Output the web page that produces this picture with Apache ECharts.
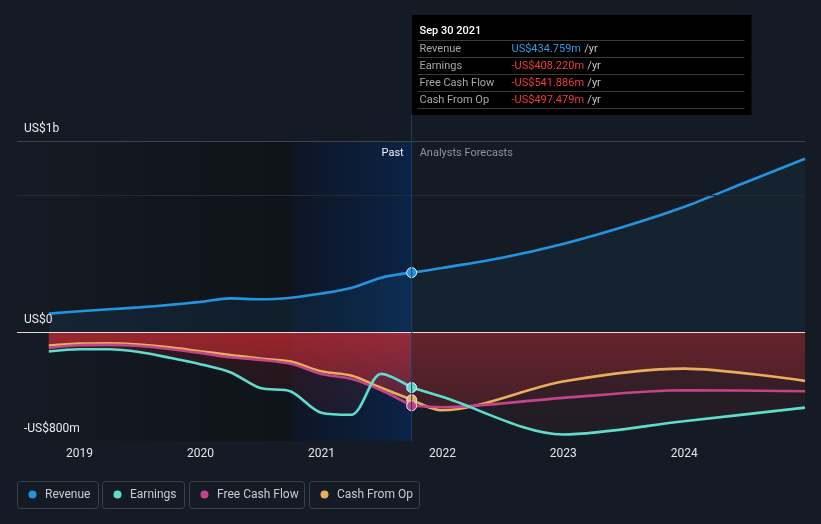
<!DOCTYPE html>
<html><head><meta charset="utf-8">
<script src="https://cdn.jsdelivr.net/npm/echarts@6/dist/echarts.min.js"></script>
<style>html,body{margin:0;padding:0;background:#151b24;}#c{width:821px;height:524px;}</style>
</head><body><div id="c"></div>
<script>
// ---- data (US$ millions) ----
const pastDates = ['2018-09-30','2018-12-31','2019-03-31','2019-06-30','2019-09-30','2019-12-31','2020-03-31','2020-06-30','2020-09-30','2020-12-31','2021-03-31','2021-06-30','2021-09-30'];
const revenuePast  = [134,151,166,180,198,220,246,239,251,281,322,398,434.759];
const earningsPast = [-144,-127,-127,-147,-190,-237,-296,-412,-437,-593,-608,-308,-408.220];
const fcfPast      = [-117,-98,-95,-103,-125,-154,-186,-205,-234,-308,-344,-428,-541.886];
const cfoPast      = [-100,-86,-83,-93,-113,-142,-169,-196,-218,-289,-320,-410,-497.479];

const revenueFcDates = ['2021-09-30','2021-12-31','2022-06-30','2022-12-31','2023-06-30','2023-12-31','2024-06-30','2024-12-31'];
const revenueFc = [434.759,469,544,645,769,916,1092,1270];
const fcDates = ['2021-09-30','2021-12-31','2022-12-31','2023-12-31','2024-12-31'];
const earningsFc = [-408.220,-476,-752,-655,-555];
const fcfFc      = [-541.886,-552,-484,-428,-435];
const cfoFc      = [-497.479,-574,-364,-269,-359];

const seriesNames = ['Revenue','Earnings','Free Cash Flow','Cash From Op'];
const seriesColors = ['#2394df','#5fdccd','#c4448a','#e9ae5b'];
const yTickLabels = ['US$1b','US$0','-US$800m'];
const nowDate = '2021-09-30';
const nowLabel = 'Sep 30 2021';
const pastStart = '2020-09-30';
const xMin = '2018-06-26', xMax = '2024-12-31';

const pair = (d, v) => d.map((x, i) => [x, v[i]]);
const fmt = v => (v < 0 ? '-' : '') + 'US$' + Math.abs(v).toFixed(3) + 'm';

const chart = echarts.init(document.getElementById('c'));
const LG = echarts.graphic.LinearGradient;
const redGrad = (a0, a1) => new LG(0, 332, 0, 441, [
  {offset: 0, color: 'rgba(215,45,52,' + a0 + ')'},
  {offset: 0.35, color: 'rgba(215,45,52,' + (a0 * 0.75) + ')'},
  {offset: 1, color: 'rgba(215,45,52,' + a1 + ')'}], true);

const negPast = [[earningsPast, 0.16, 0.05], [fcfPast, 0.36, 0.08], [cfoPast, 0.4, 0.1]];
const negFc = [[earningsFc, 0.12, 0.06], [fcfFc, 0.14, 0.05], [cfoFc, 0.24, 0.07]];
const series = [];

// background zones + horizontal rules
series.push({
  type: 'line', data: pair(pastDates, revenuePast), symbol: 'none', z: 0,
  lineStyle: {opacity: 0}, silent: true,
  markArea: {silent: true, data: [
    [{xAxis: xMin, itemStyle: {color: new LG(0,0,1,0,[{offset:0,color:'rgba(8,10,14,0.0)'},{offset:1,color:'rgba(8,10,14,0.5)'}])}}, {xAxis: pastStart}],
    [{xAxis: pastStart, itemStyle: {color: new LG(0,0,1,0,[{offset:0,color:'rgba(6,16,36,0.5)'},{offset:1,color:'rgba(5,40,88,0.68)'}])}}, {xAxis: nowDate}]
  ]},
  markLine: {silent: true, symbol: 'none', label: {show: false}, data: [
    {yAxis: 1400, lineStyle: {color: '#3d424b', width: 1, type: 'solid'}},
    {yAxis: 1000, lineStyle: {color: '#262c35', width: 1, type: 'solid'}},
    {yAxis: 0, lineStyle: {color: '#ecd6d6', width: 1, type: 'solid'}}
  ]}
});
// revenue areas
series.push({type:'line', data: pair(pastDates, revenuePast), smooth: 0.3, symbol:'none', z:1, lineStyle:{opacity:0}, areaStyle:{color:'rgba(35,148,223,0.13)'}});
series.push({type:'line', data: pair(revenueFcDates, revenueFc), smooth: 0.3, symbol:'none', z:1, lineStyle:{opacity:0}, areaStyle:{color:'rgba(35,148,223,0.1)'}});
// negative areas
negPast.forEach(([v, a0, a1]) => series.push({type:'line', data: pair(pastDates, v), smooth: 0.3, symbol:'none', z:1, lineStyle:{opacity:0}, areaStyle:{opacity: 1, color: redGrad(a0, a1)}}));
negFc.forEach(([v, a0, a1]) => series.push({type:'line', data: pair(fcDates, v), smooth: 0.3, symbol:'none', z:1, lineStyle:{opacity:0}, areaStyle:{opacity: 1, color: redGrad(a0, a1)}}));
// lines
const allPast = [revenuePast, earningsPast, fcfPast, cfoPast];
const allFc = [[revenueFcDates, revenueFc], [fcDates, earningsFc], [fcDates, fcfFc], [fcDates, cfoFc]];
[3,2,1,0].forEach(i => {
  series.push({name: seriesNames[i], type:'line', data: pair(pastDates, allPast[i]), smooth: 0.3, symbol:'none', z:3, lineStyle:{color: seriesColors[i], width: 2.6}});
  series.push({name: seriesNames[i], type:'line', data: pair(allFc[i][0], allFc[i][1]), smooth: 0.3, symbol:'none', z:3, lineStyle:{color: seriesColors[i], width: 2.6}});
});
// markers at now
[1,3,2,0].forEach(i => {
  series.push({type:'scatter', z:5, symbolSize: 10, data: [[nowDate, allPast[i][allPast[i].length-1]]],
    itemStyle: {color: seriesColors[i], borderColor: '#e8eef5', borderWidth: 1, opacity: 1}});
});

chart.setOption({
  animation: false,
  backgroundColor: '#151b24',
  textStyle: {fontFamily: 'Roboto, "DejaVu Sans", sans-serif'},
  grid: {left: 17, right: 16, top: 141, bottom: 83},
  xAxis: {
    type: 'time', min: xMin, max: xMax, splitNumber: 7,
    axisLine: {show: true, lineStyle: {color: '#3d424b', width: 1}},
    axisTick: {show: false}, splitLine: {show: false},
    axisLabel: {color: '#e2e4e8', fontSize: 12, margin: 7, showMinLabel: false, showMaxLabel: false,
      formatter: v => { const d = new Date(v); return (d.getMonth() === 0 && d.getDate() === 1) ? String(d.getFullYear()) : ''; }}
  },
  yAxis: {type: 'value', min: -800, max: 1400, show: false},
  series: series
});

const xNow = chart.convertToPixel({xAxisIndex: 0}, nowDate);
const g = [];
g.push({type:'line', z: 10, shape:{x1: xNow, y1: 15, x2: xNow, y2: 441}, style:{stroke:'#1f406a', lineWidth: 1}});
// y labels
const yl = [[1400, 129], [0, 320], [-800, 429]];
yTickLabels.forEach((t, i) => g.push({type:'text', z: 10, x: 24, y: yl[i][1], style:{text: t, fill:'#e8eaed', font:'12px Roboto, sans-serif', verticalAlign:'middle'}}));
// Past / forecasts
g.push({type:'text', z:10, x: xNow - 8, y: 153, style:{text:'Past', fill:'#f2f3f5', font:'11px Roboto, sans-serif', align:'right', verticalAlign:'middle'}});
g.push({type:'text', z:10, x: xNow + 8, y: 153, style:{text:'Analysts Forecasts', fill:'#8e939b', font:'11px Roboto, sans-serif', verticalAlign:'middle'}});
// tooltip box
const tx = Math.round(xNow) - 0.5;
g.push({type:'rect', z: 11, shape:{x: tx, y: 15, width: 340, height: 100}, style:{fill:'#000000'}});
g.push({type:'text', z: 12, x: tx + 8, y: 31, style:{text: nowLabel, fill:'#ffffff', font:'500 11px Roboto, sans-serif', verticalAlign:'middle'}});
[40.5, 57.5, 74.5, 91.5, 108.5].forEach(y => g.push({type:'line', z:12, shape:{x1: tx + 6, y1: y, x2: tx + 333, y2: y}, style:{stroke:'#3a3b3d', lineWidth: 1}}));
const lastVals = allPast.map(a => a[a.length - 1]);
seriesNames.forEach((n, i) => {
  const y = 49 + i * 17;
  g.push({type:'text', z:12, x: tx + 8, y: y, style:{text: n, fill:'#a3a6ab', font:'11px Roboto, sans-serif', verticalAlign:'middle'}});
  g.push({type:'text', z:12, x: tx + 100, y: y, style:{
    text: '{v|' + fmt(lastVals[i]) + '} {u|/yr}', verticalAlign:'middle',
    rich: {v: {fill: lastVals[i] < 0 ? '#f23b3b' : '#2d9be8', font:'11px Roboto, sans-serif'}, u: {fill:'#c4c6ca', font:'11px Roboto, sans-serif'}}}});
});
// legend
const legBoxes = [[17, 81], [102, 82], [189, 115], [309, 110]];
seriesNames.forEach((n, i) => {
  const [x, w] = legBoxes[i];
  g.push({type:'rect', z:10, shape:{x: x + 0.5, y: 481.5, width: w, height: 27, r: 3}, style:{fill:'none', stroke:'#3c414a', lineWidth: 1}});
  g.push({type:'circle', z:10, shape:{cx: x + 15.5, cy: 494.5, r: 4}, style:{fill: seriesColors[i]}});
  g.push({type:'text', z:10, x: x + 28, y: 495, style:{text: n, fill:'#c9ccd1', font:'12px Roboto, sans-serif', verticalAlign:'middle'}});
});
chart.setOption({graphic: g});
</script></body></html>
